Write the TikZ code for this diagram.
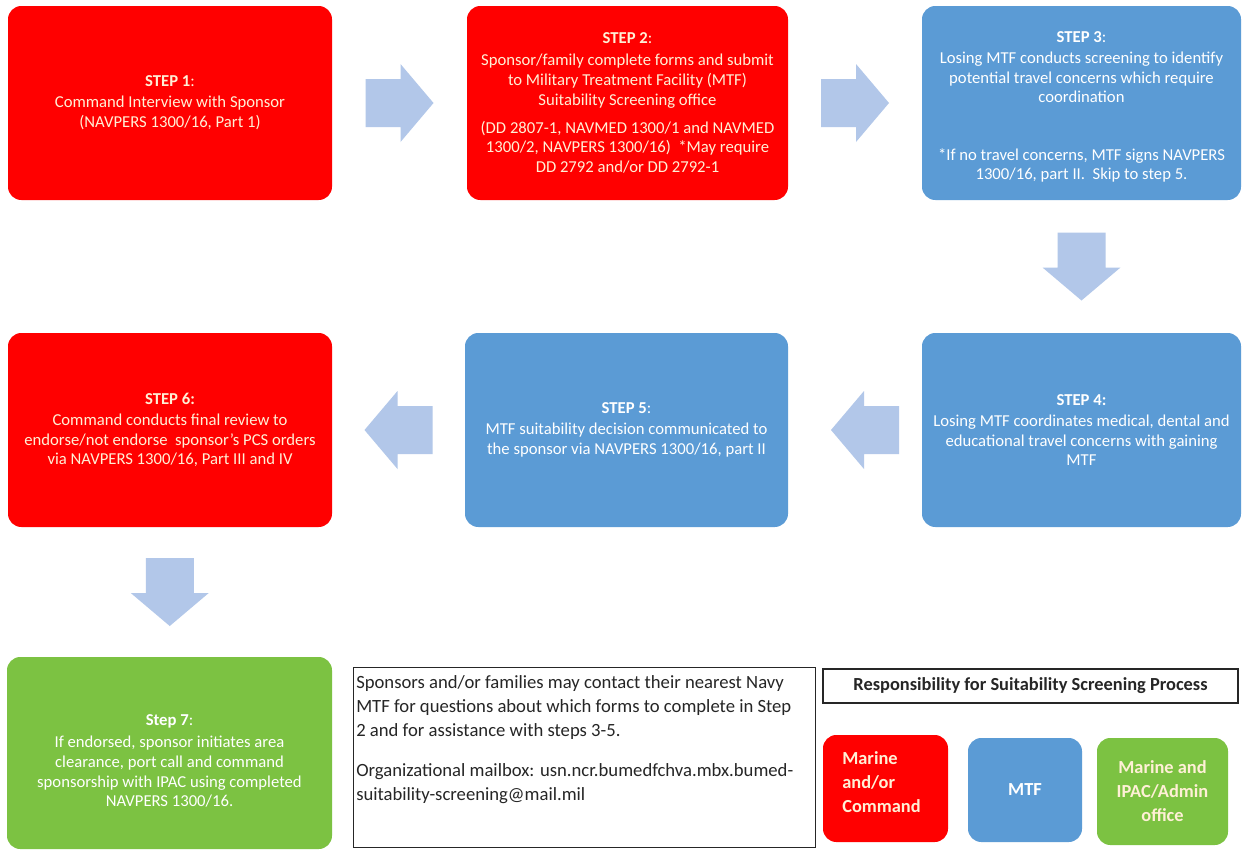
\documentclass[tikz,border=0pt]{standalone}
\usepackage{fontspec}
\setmainfont{Carlito}
\usetikzlibrary{calc}
\definecolor{bred}{HTML}{FF0000}
\definecolor{bblue}{HTML}{5B9BD5}
\definecolor{bgreen}{HTML}{7CC242}
\definecolor{barrow}{HTML}{B2C7E9}
\definecolor{cream}{HTML}{FFF0D6}
\definecolor{ink}{HTML}{262626}
\begin{document}
\begin{tikzpicture}[x=0.75pt,y=-0.75pt,
  stepbox/.style={rounded corners=10pt, inner sep=0pt, align=center,
    font=\fontsize{12.5}{14.8}\selectfont},
  redbox/.style={stepbox, fill=bred, text=cream},
  bluebox/.style={stepbox, fill=bblue, text=white},
  greenbox/.style={stepbox, fill=bgreen, text=white},
  legbox/.style={rounded corners=10pt, inner sep=0pt,
    font=\fontsize{13.8}{18}\selectfont\bfseries},
  blockarrow/.pic={\fill[barrow] (-34,-24) -- (1,-24) -- (1,-39) -- (34,0)
     -- (1,39) -- (1,24) -- (-34,24) -- cycle;}
]
\fill[white] (0,0) rectangle (1243,850);
\useasboundingbox (0,0) rectangle (1243,850);

% Row 1
\node[redbox, minimum width=243pt, minimum height=145.5pt] (s1) at (170,103)
 {\textbf{STEP 1}:\\[1pt] Command Interview with Sponsor\\ (NAVPERS 1300/16, Part 1)};
\node[redbox, minimum width=240.75pt, minimum height=145.5pt] (s2) at (627.5,103)
 {\textbf{STEP 2}:\\[2pt] Sponsor/family complete forms and submit\\ to Military Treatment Facility (MTF)\\ Suitability Screening office\\[6pt]
 (DD 2807-1, NAVMED 1300/1 and NAVMED\\ 1300/2, NAVPERS 1300/16)\ \ *May require\\ DD 2792 and/or DD 2792-1};
\node[bluebox, minimum width=239.25pt, minimum height=145.5pt] (s3) at (1081.5,103) {};
\node[bluebox, anchor=center, align=center] (s3t) at ($(s3.center)+(0,4)$)
 {\textbf{STEP 3}:\\[1pt] Losing MTF conducts screening to identify\\ potential travel concerns which require\\ coordination\\[28pt]
 *If no travel concerns, MTF signs NAVPERS\\ 1300/16, part II.\ \ Skip to step 5.};

% Row 2
\node[redbox, minimum width=243pt, minimum height=145.5pt] (s6) at (170,430)
 {\textbf{STEP 6:}\\[1pt] Command conducts final review to\\ endorse/not endorse\ \ sponsor’s PCS orders\\ via NAVPERS 1300/16, Part III and IV};
\node[bluebox, minimum width=242.25pt, minimum height=145.5pt] (s5) at (626.5,430)
 {\textbf{STEP 5}:\\[1pt] MTF suitability decision communicated to\\ the sponsor via NAVPERS 1300/16, part II};
\node[bluebox, minimum width=239.25pt, minimum height=145.5pt] (s4) at (1081.5,430)
 {\textbf{STEP 4:}\\[1pt] Losing MTF coordinates medical, dental and\\ educational travel concerns with gaining\\ MTF};

% Row 3
\node[greenbox, minimum width=243.75pt, minimum height=144pt] (s7) at (169.5,753) {};
\node[greenbox, anchor=center] (s7t) at ($(s7.center)+(0,8)$)
 {\textbf{Step 7}:\\[2pt] If endorsed, sponsor initiates area\\ clearance, port call and command\\ sponsorship with IPAC using completed\\ NAVPERS 1300/16.};

% Block arrows
\coordinate (a12) at ($(s1.east)!0.5!(s2.west)$);
\coordinate (a23) at ($(s2.east)!0.5!(s3.west)$);
\coordinate (a34) at ($(s3.south)!0.5!(s4.north)$);
\coordinate (a45) at ($(s5.east)!0.5!(s4.west)+(10,0)$);
\coordinate (a56) at ($(s6.east)!0.5!(s5.west)$);
\coordinate (a67) at ($(s6.south)!0.5!(s7.north)$);
\pic at (a12) {blockarrow};
\pic at (a23) {blockarrow};
\pic[rotate=-90] at (a34) {blockarrow};
\pic[rotate=180] at (a45) {blockarrow};
\pic[rotate=180] at (a56) {blockarrow};
\pic[rotate=-90] at (a67) {blockarrow};

% Info box
\node[draw=ink, line width=1pt, anchor=north west, minimum width=346.5pt,
  minimum height=135pt, inner sep=0pt] (info) at (353,667) {};
\node[anchor=north west, inner sep=0pt, align=left, text=ink,
  font=\fontsize{14}{18}\selectfont] (infot) at ($(info.north west)+(3,8)$)
 {Sponsors and/or families may contact their nearest Navy\\ MTF for questions about which forms to complete in Step\\ 2 and for assistance with steps 3-5.\\[12pt]
 Organizational mailbox: usn.ncr.bumedfchva.mbx.bumed-\\ suitability-screening@mail.mil};

% Legend
\node[draw=ink, line width=1pt, minimum width=311.25pt, minimum height=25.5pt,
  inner sep=0pt, text=ink, font=\fontsize{13.8}{16}\selectfont\bfseries] (legt) at (1030.5,686)
 {Responsibility for Suitability Screening Process};
\node[legbox, fill=bred, text=cream, minimum width=93.75pt, minimum height=80.25pt] (l1) at (885.5,788.5) {};
\node[legbox, text=cream, align=left] (l1t) at ($(l1.center)+(-4,-6)$) {Marine\\ and/or\\ Command};
\node[legbox, fill=bblue, text=white, minimum width=85.5pt, minimum height=78pt] (l2) at (1025,790) {MTF};
\node[legbox, fill=bgreen, text=cream, minimum width=98.25pt, minimum height=80.25pt, align=center] (l3) at (1162.5,791.5)
 {Marine and\\ IPAC/Admin\\ office};
\end{tikzpicture}
\end{document}
